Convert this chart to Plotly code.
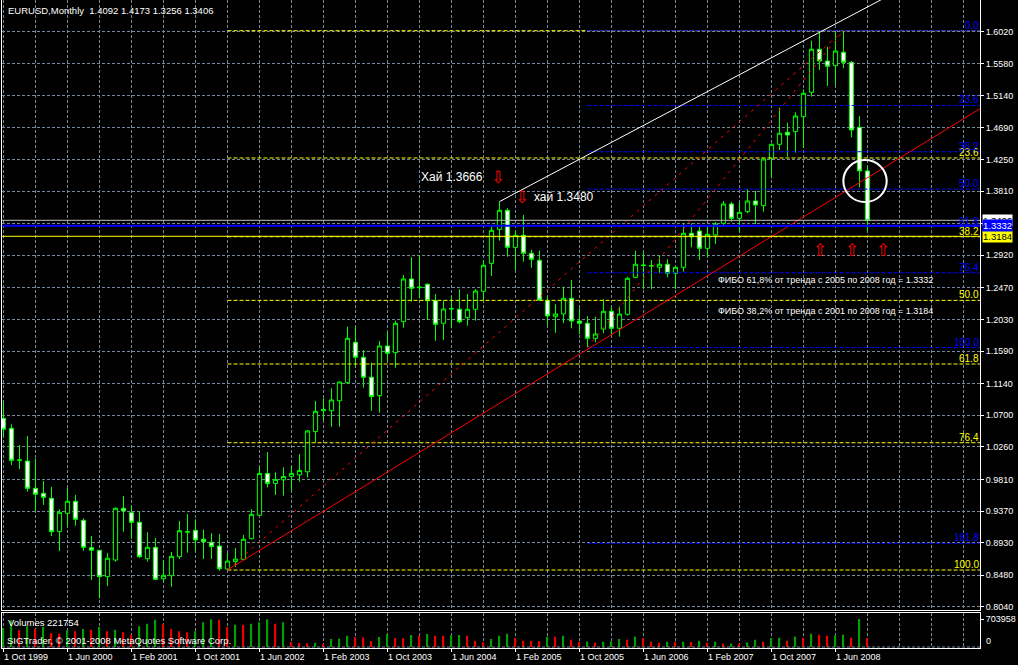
import plotly.graph_objects as go

# ---------------- data (monthly EURUSD, Oct 1999 .. Oct 2008) ----------------
opens = [1.0658, 1.0519, 1.0080, 1.0065, 0.9686, 0.9617, 0.9548, 0.9084, 0.9339, 0.9506,
         0.9242, 0.8862, 0.8826, 0.8460, 0.8691, 0.9409, 0.9348, 0.9215, 0.8709, 0.8867,
         0.8431, 0.8473, 0.8737, 0.9078, 0.9103, 0.8979, 0.8937, 0.8885, 0.8566, 0.8668,
         0.8701, 0.8987, 0.9312, 0.9893, 0.9754, 0.9804, 0.9851, 0.9873, 0.9915, 1.0473,
         1.0763, 1.0763, 1.0902, 1.1152, 1.1713, 1.1505, 1.1228, 1.0972, 1.1662, 1.1569,
         1.1999, 1.2592, 1.2470, 1.2518, 1.2290, 1.1977, 1.2175, 1.2171, 1.2054, 1.2171,
         1.2421, 1.2809, 1.3281, 1.3545, 1.3031, 1.3198, 1.2948, 1.2851, 1.2290, 1.2068,
         1.2106, 1.2323, 1.2008, 1.1977, 1.1768, 1.1897, 1.2143, 1.1907, 1.2102, 1.2615,
         1.2786, 1.2770, 1.2754, 1.2796, 1.2671, 1.2754, 1.3226, 1.3258, 1.3017, 1.3202,
         1.3364, 1.3633, 1.3434, 1.3526, 1.3674, 1.3609, 1.4267, 1.4461, 1.4628, 1.4636,
         1.4844, 1.5183, 1.5780, 1.5617, 1.5552, 1.5738, 1.5599, 1.4697, 1.4092]
highs = [1.0898, 1.0575, 1.0287, 1.0412, 1.0097, 0.9788, 0.9705, 0.9395, 0.9695, 0.9593,
         0.9270, 0.9024, 0.8830, 0.8788, 0.9420, 0.9580, 0.9441, 0.9371, 0.9076, 0.8997,
         0.8687, 0.8802, 0.9233, 0.9330, 0.9256, 0.9112, 0.9062, 0.9052, 0.8788, 0.8858,
         0.9038, 0.9395, 0.9977, 1.0190, 0.9907, 0.9977, 0.9995, 1.0162, 1.0496, 1.0898,
         1.0936, 1.1074, 1.1167, 1.1930, 1.1939, 1.1606, 1.1430, 1.1731, 1.1852, 1.2013,
         1.2647, 1.2893, 1.2925, 1.2532, 1.2383, 1.2290, 1.2356, 1.2448, 1.2383, 1.2453,
         1.2855, 1.3317, 1.3666, 1.3573, 1.3262, 1.3480, 1.2998, 1.2984, 1.2346, 1.2240,
         1.2485, 1.2578, 1.2185, 1.2078, 1.2068, 1.2310, 1.2207, 1.2207, 1.2623, 1.2984,
         1.2970, 1.2855, 1.2925, 1.2865, 1.2762, 1.3364, 1.3364, 1.3341, 1.3317, 1.3383,
         1.3674, 1.3660, 1.3660, 1.3841, 1.3813, 1.4265, 1.4470, 1.4969, 1.4761, 1.4905,
         1.5224, 1.5899, 1.6016, 1.5816, 1.6016, 1.6038, 1.5617, 1.4854, 1.4173]
lows = [1.0403, 1.0010, 0.9954, 0.9639, 0.9375, 0.9455, 0.9024, 0.8816, 0.9163, 0.9167,
        0.8820, 0.8414, 0.8160, 0.8330, 0.8668, 0.9084, 0.8983, 0.8720, 0.8668, 0.8410,
        0.8390, 0.8321, 0.8705, 0.8792, 0.8816, 0.8705, 0.8705, 0.8542, 0.8552, 0.8594,
        0.8691, 0.8979, 0.9302, 0.9699, 0.9593, 0.9584, 0.9651, 0.9776, 0.9837, 1.0319,
        1.0634, 1.0541, 1.0541, 1.1134, 1.1375, 1.1083, 1.0763, 1.0736, 1.1444, 1.1361,
        1.1916, 1.2276, 1.2323, 1.2022, 1.1735, 1.1745, 1.1907, 1.1977, 1.1943, 1.2013,
        1.2290, 1.2633, 1.3123, 1.2901, 1.2716, 1.2832, 1.2748, 1.2290, 1.1953, 1.1846,
        1.1977, 1.1907, 1.1828, 1.1640, 1.1713, 1.1838, 1.1828, 1.1791, 1.2082, 1.2600,
        1.2453, 1.2453, 1.2671, 1.2615, 1.2453, 1.2693, 1.3031, 1.2855, 1.2893, 1.3077,
        1.3317, 1.3387, 1.3234, 1.3504, 1.3355, 1.3526, 1.3989, 1.4382, 1.4289, 1.4345,
        1.4406, 1.5122, 1.5492, 1.5270, 1.5284, 1.5516, 1.4558, 1.3864, 1.3256]
closes = [1.0505, 1.0075, 1.0076, 0.9686, 0.9603, 0.9561, 0.9084, 0.9353, 0.9506, 0.9256,
          0.8867, 0.8826, 0.8460, 0.8715, 0.9409, 0.9371, 0.9215, 0.8737, 0.8867, 0.8423,
          0.8478, 0.8742, 0.9098, 0.9084, 0.8969, 0.8945, 0.8876, 0.8570, 0.8677, 0.8705,
          0.8979, 0.9325, 0.9893, 0.9754, 0.9810, 0.9851, 0.9893, 0.9934, 1.0482, 1.0755,
          1.0780, 1.0912, 1.1162, 1.1768, 1.1505, 1.1228, 1.0959, 1.1662, 1.1560, 1.1977,
          1.2592, 1.2462, 1.2478, 1.2290, 1.1963, 1.2175, 1.2181, 1.1999, 1.2171, 1.2425,
          1.2782, 1.3267, 1.3545, 1.3031, 1.3198, 1.2948, 1.2865, 1.2300, 1.2078, 1.2106,
          1.2323, 1.2008, 1.1977, 1.1768, 1.1828, 1.2143, 1.1907, 1.2106, 1.2601, 1.2796,
          1.2780, 1.2776, 1.2796, 1.2671, 1.2754, 1.3226, 1.3179, 1.3017, 1.3212, 1.3355,
          1.3633, 1.3434, 1.3517, 1.3674, 1.3619, 1.4257, 1.4461, 1.4614, 1.4590, 1.4854,
          1.5169, 1.5780, 1.5617, 1.5544, 1.5756, 1.5599, 1.4660, 1.4092, 1.3406]
volumes = [477660, 670400, 419000, 519560, 452520, 502800, 351960, 335200, 419000, 393860,
           452520, 435760, 502800, 393860, 435760, 368720, 310060, 519560, 586600, 687160,
           586600, 452520, 393860, 368720, 393860, 620120, 695540, 687160, 502800, 561460,
           553080, 586600, 620120, 699730, 586600, 620120, 125700, 100560, 96370, 104750,
           75420, 201120, 205310, 284920, 251400, 247210, 150840, 251400, 326820, 226260,
           222070, 301680, 284920, 326820, 284920, 280730, 293300, 301680, 284920, 159220,
           117320, 201120, 284920, 335200, 226260, 159220, 155030, 150840, 259780, 255590,
           284920, 184360, 134080, 138270, 108940, 134080, 142460, 201120, 184360, 259780,
           217880, 134080, 108940, 134080, 129890, 134080, 125700, 159220, 108940, 134080,
           83800, 87990, 83800, 117320, 184360, 134080, 226260, 234640, 159220, 259780,
           234640, 335200, 310060, 284920, 289110, 310060, 234640, 703958, 221754]

date_ticks = [0, 8, 16, 24, 32, 40, 48, 56, 64, 72, 80, 88, 96, 104]
date_labels = ["1 Oct 1999", "1 Jun 2000", "1 Feb 2001", "1 Oct 2001", "1 Jun 2002",
               "1 Feb 2003", "1 Oct 2003", "1 Jun 2004", "1 Feb 2005", "1 Oct 2005",
               "1 Jun 2006", "1 Feb 2007", "1 Oct 2007", "1 Jun 2008"]
price_ticks = [1.6020, 1.5580, 1.5140, 1.4690, 1.4250, 1.3810, 1.3365, 1.2920, 1.2470,
               1.2030, 1.1590, 1.1140, 1.0700, 1.0260, 0.9810, 0.9370, 0.8930, 0.8480, 0.8040]
price_labels = ["1.6020", "1.5580", "1.5140", "1.4690", "1.4250", "1.3810", "", "1.2920",
                "1.2470", "1.2030", "1.1590", "1.1140", "1.0700", "1.0260", "0.9810",
                "0.9370", "0.8930", "0.8480", "0.8040"]

fib_levels = [0.0, 23.6, 38.2, 50.0, 61.8, 76.4, 100.0, 161.8]
fib_names = ["0.0", "23.6", "38.2", "50.0", "61.8", "76,4", "100.0", "161.8"]
# Fibonacci grids: (start bar, high, low)
fib_blue = (73, 1.6038, 1.1640)     # trend 2005 -> 2008
fib_yellow = (28, 1.6038, 0.8552)   # trend 2001/2002 -> 2008

# trend lines: (bar, price) anchor pairs
white_line = [(62, 1.3666), (122, 1.7190)]
red_line = [(28, 0.8552), (73, 1.1615)]
dot_line_1 = [(28, 0.8552), (105, 1.6038)]
dot_line_2 = [(73, 1.1640), (105, 1.6038)]

bid_price = 1.3406
fibo_618_price = 1.3332
fibo_382_price = 1.3184
ohlc_last = "1.4092 1.4173 1.3256 1.3406"
current_volume = 221754
max_volume = 703958

# ---------------- figure ----------------
X0, X1 = -0.1875, 122.0625
Y0, Y1 = 0.8004, 1.6464
GRID = "#778899"
GDASH = "3px,2px"
FONT = "Liberation Sans, Arial, sans-serif"
bars = list(range(len(opens)))

fig = go.Figure()

fig.add_trace(go.Candlestick(
    x=bars, open=opens, high=highs, low=lows, close=closes,
    increasing=dict(line=dict(color="#00ff00", width=1), fillcolor="#000000"),
    decreasing=dict(line=dict(color="#00ff00", width=1), fillcolor="#ffffff"),
    whiskerwidth=0, hoverinfo="skip", xaxis="x", yaxis="y", showlegend=False))

# volume bars (green when higher than previous bar, red otherwise)
vol_colors = []
prev = None
for v in volumes:
    vol_colors.append("#00a000" if (prev is None or v > prev) else "#ee0000")
    prev = v
fig.add_trace(go.Bar(x=bars, y=volumes, width=0.16, marker=dict(color=vol_colors, line=dict(width=0)),
                     xaxis="x2", yaxis="y2", hoverinfo="skip", showlegend=False))


def hline(price, color, width=1, dash=None, start=X0):
    fig.add_trace(go.Scatter(x=[start, X1], y=[price, price], mode="lines",
                             line=dict(color=color, width=width, dash=dash),
                             hoverinfo="skip", showlegend=False))


def seg(points, color, width=1, dash=None, extend=False):
    (xa, ya), (xb, yb) = points
    if extend:
        slope = (yb - ya) / (xb - xa)
        xb, yb = X1, ya + slope * (X1 - xa)
    fig.add_trace(go.Scatter(x=[xa, xb], y=[ya, yb], mode="lines",
                             line=dict(color=color, width=width, dash=dash),
                             hoverinfo="skip", showlegend=False))


annotations = []


def fib(grid, color, levels, names):
    start, hi, lo = grid
    for lvl, name in zip(levels, names):
        p = hi - lvl / 100.0 * (hi - lo)
        if p < Y0:
            continue
        hline(p, color, 1, "4px,2px", start)
        if name:
            annotations.append(dict(x=1, xref="paper", y=p, yref="y", text=name,
                                    xanchor="right", yanchor="bottom", showarrow=False,
                                    borderpad=0, yshift=-1,
                                    font=dict(color=color, size=10, family=FONT)))


fib(fib_yellow, "#ffff00", fib_levels, [""] + fib_names[1:])
fib(fib_blue, "#0000ff", fib_levels, fib_names)

seg(dot_line_1, "#ff0000", 1, "3px,5px")
seg(dot_line_2, "#ff0000", 1, "3px,5px")
seg(red_line, "#ff0000", 1, None, extend=True)
seg(white_line, "#ffffff", 1)

hline(bid_price, "#c0c0c0", 1)
hline(fibo_382_price, "#ffff00", 1)
hline(fibo_618_price, "#0000ff", 2)

# price boxes on the right scale
for price, bg, fg in [(bid_price, "#ffffff", "#000000"), (fibo_382_price, "#ffff00", "#000000"),
                      (fibo_618_price, "#0000ff", "#ffffff")]:
    annotations.append(dict(x=1.0025, xref="paper", y=price, yref="y", text=f"{price:.4f}",
                            xanchor="left", yanchor="middle", showarrow=False, bgcolor=bg,
                            borderpad=0, font=dict(color=fg, size=9.5, family=FONT)))

# text labels
annotations += [
    dict(x=0.0048, xref="paper", y=0.9841, yref="paper",
         text=f"EURUSD,Monthly  {ohlc_last}", xanchor="left", yanchor="middle",
         showarrow=False, borderpad=0, font=dict(color="#ffffff", size=9.5, family=FONT)),
    dict(x=52.06, y=1.4011, text="Хай 1.3666", xanchor="left", yanchor="middle",
         showarrow=False, borderpad=0, font=dict(color="#ffffff", size=12, family=FONT)),
    dict(x=66.15, y=1.3734, text="хай 1.3480", xanchor="left", yanchor="middle",
         showarrow=False, borderpad=0, font=dict(color="#ffffff", size=12, family=FONT)),
    dict(x=89.19, y=1.2578, text="ФИБО 61,8% от тренда с 2005 по 2008 год = 1.3332",
         xanchor="left", yanchor="middle", showarrow=False, borderpad=0,
         font=dict(color="#ffffff", size=9, family=FONT)),
    dict(x=89.19, y=1.2152, text="ФИБО 38,2% от тренда с 2001 по 2008 год = 1.3184",
         xanchor="left", yanchor="middle", showarrow=False, borderpad=0,
         font=dict(color="#ffffff", size=9, family=FONT)),
]
for xi, yi, glyph in [(61.8, 1.4007, "⇩"), (64.75, 1.3734, "⇩"), (102.0, 1.2994, "⇧"),
                      (106.0, 1.2994, "⇧"), (109.9, 1.2994, "⇧")]:
    annotations.append(dict(x=xi, y=yi, text=glyph, showarrow=False, borderpad=0,
                            xanchor="center", yanchor="middle",
                            font=dict(color="#ff0000", size=17, family="DejaVu Sans")))

# volume window texts
annotations += [
    dict(x=0.0051, xref="paper", y=0.0390, yref="paper", text=f"Volumes {current_volume}",
         xanchor="left", yanchor="middle", showarrow=False, borderpad=0,
         font=dict(color="#ffffff", size=9.5, family=FONT)),
    dict(x=0.0041, xref="paper", y=0.0116, yref="paper",
         text="SIGTrader, © 2001-2008 MetaQuotes Software Corp.",
         xanchor="left", yanchor="middle", showarrow=False, borderpad=0,
         font=dict(color="#ffffff", size=9.5, family=FONT)),
    dict(x=1.0051, xref="paper", y=0.0108, yref="paper", text="0",
         xanchor="left", yanchor="middle", showarrow=False, borderpad=0,
         font=dict(color="#ffffff", size=9, family=FONT)),
]
# date labels (left aligned on their ticks)
for t, lab in zip(date_ticks, date_labels):
    annotations.append(dict(x=t, xref="x2", y=-0.0139, yref="paper", text=lab,
                            xanchor="left", yanchor="middle", showarrow=False,
                            borderpad=0, xshift=-1,
                            font=dict(color="#ffffff", size=9, family=FONT)))

shapes = [
    dict(type="circle", xref="x", yref="y", x0=104.98, x1=110.4, y0=1.3660, y1=1.4243,
         line=dict(color="#ffffff", width=2)),
    dict(type="line", xref="paper", yref="y2", x0=0, x1=1, y0=0, y1=0,
         line=dict(color=GRID, width=1, dash=GDASH)),
]

xgrid = dict(showgrid=True, gridcolor=GRID, griddash=GDASH, gridwidth=1,
             minor=dict(tickmode="linear", tick0=0, dtick=4, showgrid=True,
                        gridcolor=GRID, griddash=GDASH, gridwidth=1, ticks=""))

fig.update_layout(
    width=1018, height=665,
    margin=dict(l=2, r=38, t=0, b=17),
    paper_bgcolor="#000000", plot_bgcolor="#000000",
    showlegend=False, boxgap=0.25,
    xaxis=dict(domain=[0, 1], range=[X0, X1], anchor="y", tickmode="array",
               tickvals=date_ticks, showticklabels=False, ticks="", zeroline=False,
               showline=True, linecolor="#ffffff", linewidth=1,
               rangeslider=dict(visible=False), fixedrange=True, **xgrid),
    yaxis=dict(domain=[0.05941, 1], range=[Y0, Y1], side="right", anchor="x",
               tickmode="array", tickvals=price_ticks, ticktext=price_labels,
               showgrid=True, gridcolor=GRID, griddash=GDASH, gridwidth=1,
               ticks="outside", ticklen=3, tickcolor="#ffffff",
               tickfont=dict(color="#ffffff", size=9, family=FONT),
               showline=True, linecolor="#ffffff", linewidth=1, mirror=True,
               zeroline=False, fixedrange=True),
    xaxis2=dict(domain=[0, 1], range=[X0, X1], anchor="y2", tickmode="array",
                tickvals=date_ticks, showticklabels=False, ticks="outside", ticklen=3,
                tickcolor="#ffffff", zeroline=False, showline=True, linecolor="#ffffff",
                linewidth=1, mirror=True, fixedrange=True, **xgrid),
    yaxis2=dict(domain=[0, 0.05478], range=[-25140, 867330], side="right", anchor="x2",
                tickmode="array", tickvals=[max_volume], ticktext=[str(max_volume)],
                showgrid=False, ticks="outside", ticklen=3, tickcolor="#ffffff",
                tickfont=dict(color="#ffffff", size=9, family=FONT),
                showline=True, linecolor="#ffffff", linewidth=1, mirror=True,
                zeroline=False, fixedrange=True),
    annotations=annotations,
    shapes=shapes,
)

fig.write_html("out.html", config={"displayModeBar": False},
               post_script="document.body.style.margin='0';document.body.style.background='#000';")
